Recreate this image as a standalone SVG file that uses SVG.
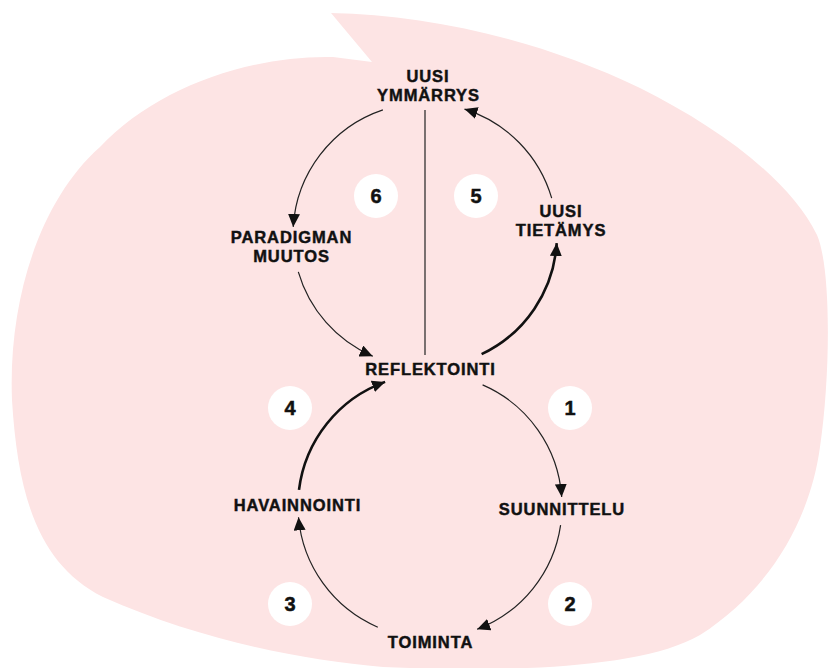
<svg xmlns="http://www.w3.org/2000/svg" width="829" height="668" viewBox="0 0 829 668">
<style>
.lbl{font-family:"Liberation Sans",Arial,sans-serif;font-weight:bold;font-size:16.5px;letter-spacing:0.9px;fill:#111;stroke:#111;stroke-width:0.45;text-anchor:middle}
.num{font-family:"Liberation Sans",Arial,sans-serif;font-weight:bold;font-size:20px;fill:#111;stroke:#111;stroke-width:0.5;text-anchor:middle}
.badge{fill:#ffffff}
.thin{fill:none;stroke:#222;stroke-width:1.2}
.thick{fill:none;stroke:#111;stroke-width:2.6}
</style>
<defs>
<marker id="ah" markerUnits="userSpaceOnUse" markerWidth="14" markerHeight="12" refX="13" refY="6" orient="auto">
<path d="M0,0 L13,6 L0,12 Z" fill="#111"/>
</marker>
</defs>
<rect width="829" height="668" fill="#ffffff"/>
<path id="blob" d="M331,13 C430,15 540,40 640,88 C720,128 790,180 817,235 C832,270 830,380 820,447 C810,520 770,590 700,635 C640,670 500,672 383,667 C300,660 200,640 103,597 C40,565 18,500 12,400 C8,300 40,200 100,147 C155,88 250,55 333,57 L372,62 Z" fill="#fde4e4"/>
<g id="connectors">
<line class="thin" x1="425" y1="110" x2="425" y2="355"/>
<path class="thin" d="M382.9,109.9 A132,132 0 0 0 293.2,226.9" marker-end="url(#ah)"/>
<path class="thin" d="M298.3,271.8 A132,132 0 0 0 372.8,356.2" marker-end="url(#ah)"/>
<path class="thick" d="M481.6,354.2 A132,132 0 0 0 556.7,243.1" marker-end="url(#ah)"/>
<path class="thin" d="M551.7,198.2 A132,132 0 0 0 464.5,109.1" marker-end="url(#ah)"/>
<path class="thin" d="M482.6,384.9 A132,132 0 0 1 561.7,497.0" marker-end="url(#ah)"/>
<path class="thin" d="M560.6,525.1 A132,132 0 0 1 477.1,629.3" marker-end="url(#ah)"/>
<path class="thin" d="M377.8,627.2 A132,132 0 0 1 298.5,517.3" marker-end="url(#ah)"/>
<path class="thick" d="M299.0,489.9 A132,132 0 0 1 385.1,381.9" marker-end="url(#ah)"/>
</g>
<g id="node-ymmarrys"><text class="lbl" x="428" y="82">UUSI</text><text class="lbl" x="428.5" y="101">YMMÄRRYS</text></g>
<g id="node-paradigman"><text class="lbl" x="291.5" y="243">PARADIGMAN</text><text class="lbl" x="291.5" y="262">MUUTOS</text></g>
<g id="node-tietamys"><text class="lbl" x="561" y="217">UUSI</text><text class="lbl" x="561" y="236">TIETÄMYS</text></g>
<g id="node-reflektointi"><text class="lbl" x="430.5" y="375">REFLEKTOINTI</text></g>
<g id="node-havainnointi"><text class="lbl" x="297.5" y="511">HAVAINNOINTI</text></g>
<g id="node-suunnittelu"><text class="lbl" x="562" y="515">SUUNNITTELU</text></g>
<g id="node-toiminta"><text class="lbl" x="430.5" y="648">TOIMINTA</text></g>
<g id="badge-1"><circle class="badge" cx="570" cy="408" r="22"/><text class="num" x="570" y="415">1</text></g>
<g id="badge-2"><circle class="badge" cx="570" cy="604" r="22"/><text class="num" x="570" y="611">2</text></g>
<g id="badge-3"><circle class="badge" cx="290" cy="604" r="22"/><text class="num" x="290" y="611">3</text></g>
<g id="badge-4"><circle class="badge" cx="290" cy="408" r="22"/><text class="num" x="290" y="415">4</text></g>
<g id="badge-5"><circle class="badge" cx="476" cy="196" r="22"/><text class="num" x="476" y="203">5</text></g>
<g id="badge-6"><circle class="badge" cx="376" cy="196" r="22"/><text class="num" x="376" y="203">6</text></g>
</svg>
